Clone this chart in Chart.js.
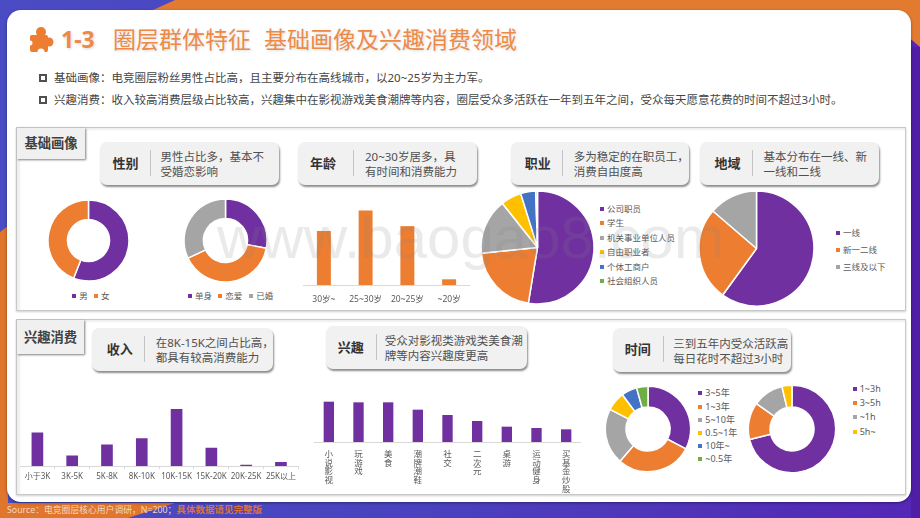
<!DOCTYPE html>
<html lang="zh">
<head>
<meta charset="utf-8">
<title>圈层群体特征</title>
<script src="https://cdn.jsdelivr.net/npm/chart.js@4"></script>
<style>
html, body { margin: 0; padding: 0; }
body { width: 920px; height: 518px; position: relative; overflow: hidden; font-family: "Noto Sans", "Noto Sans CJK SC", sans-serif; color: #404040;
  background: linear-gradient(90deg, #4a4cc4 0%, #4a42be 45%, #5527b6 100%); }
.abs { position: absolute; }
#bg { position: absolute; left: 0; top: 0; }
#card { position: absolute; left: 7px; top: 10px; width: 904px; height: 492px; background: #fff; border-radius: 14px; box-shadow: 0 1px 3px rgba(0,0,0,.4); }
.title { position: absolute; top: 23px; font-size: 23px; line-height: 32px; color: #ee8a48; white-space: nowrap; text-shadow: 1px 1px 3px rgba(0,0,0,.15); }
.bullet { position: absolute; left: 39px; width: 4px; height: 4px; border: 2px solid #505050; }
.line { position: absolute; left: 54px; font-size: 11.5px; line-height: 16px; color: #454545; white-space: nowrap; }
.panel { position: absolute; left: 16px; width: 888px; border: 1.5px solid #c8c8c8; box-shadow: inset 3px 2px 2px #efefef, 0 1px 2px rgba(0,0,0,.2); }
.tab { position: absolute; background: #f0f0f0; box-shadow: 1px 1px 2px rgba(0,0,0,.5); font-size: 13.3px; font-weight: 700; color: #404040; text-align: center; }
.callout { position: absolute; height: 43.5px; background: #f1f1f1; border-radius: 7px; box-shadow: 1px 2px 2px rgba(0,0,0,.45); }
.callout b { position: absolute; left: 0; top: 0; font-size: 13px; line-height: 43.5px; color: #333; }
.callout i { position: absolute; top: 8px; width: 1px; height: 26px; background: #c4c4c4; }
.callout span { position: absolute; top: 7.5px; font-size: 11.5px; line-height: 15px; color: #505050; white-space: nowrap; }
.leg { position: absolute; font-size: 8.5px; line-height: 10px; color: #595959; white-space: nowrap; }
.leg s { position: absolute; width: 4px; height: 4px; top: 3px; }
#mark { position: absolute; left: 217px; top: 198px; font-family: "Liberation Sans", sans-serif; font-size: 60px; line-height: 80px; color: rgba(130,130,130,.17); white-space: nowrap; }
#source { position: absolute; left: 7px; top: 503px; font-size: 8.8px; line-height: 14px; color: #f2d8c4; white-space: nowrap; }
#source em { font-style: normal; font-weight: 700; font-size: 9.5px; color: #d9733a; }
canvas { position: absolute; }
</style>
</head>
<body>
<svg id="bg" width="920" height="518">
  <polygon points="153,10 175,0 920,0 920,47 900,30" fill="#e27a30"/>
  <polygon points="0,232 8,226 8,503 175,503 128,518 0,518" fill="#e0752c"/>
  <rect x="911" y="47" width="9" height="471" fill="#4e1fa6"/>
</svg>
<div id="card"></div>

<svg class="abs" style="left:29px;top:26px" width="26" height="27">
  <g fill="#ed7d31">
    <rect x="1" y="9" width="18" height="17" rx="2"/>
    <circle cx="12" cy="6" r="5"/>
    <circle cx="20" cy="16" r="4.5"/>
  </g>
  <circle cx="1" cy="17" r="2.5" fill="#fff"/>
  <circle cx="12" cy="26" r="3.5" fill="#fff"/>
</svg>
<div class="title" style="left:61px;font-weight:700">1-3</div>
<div class="title" style="left:113px">圈层群体特征</div>
<div class="title" style="left:264px">基础画像及兴趣消费领域</div>

<div class="bullet" style="top:74px"></div>
<div class="line" style="top:70px">基础画像：电竞圈层粉丝男性占比高，且主要分布在高线城市，以20~25岁为主力军。</div>
<div class="bullet" style="top:96px"></div>
<div class="line" style="top:92px">兴趣消费：收入较高消费层级占比较高，兴趣集中在影视游戏美食潮牌等内容，圈层受众多活跃在一年到五年之间，受众每天愿意花费的时间不超过3小时。</div>

<div class="panel" style="top:127px;height:182px"></div>
<div class="panel" style="top:319px;height:174px"></div>
<div class="tab" style="left:17px;top:128px;width:68px;height:31px;line-height:31px">基础画像</div>
<div class="tab" style="left:17px;top:320px;width:67px;height:34px;line-height:34px">兴趣消费</div>

<div id="stage"></div>
<div id="mark">www.baogao8.com</div>
<div id="source">Source：电竞圈层核心用户调研，N=200；<em>具体数据请见完整版</em></div>

<script>
const PURPLE = "#7030a0";
const ORANGE = "#ed7d31";
const GREY = "#a5a5a5";
const YELLOW = "#ffc000";
const BLUE = "#4472c4";
const GREEN = "#70ad47";
const pieColors = [PURPLE, ORANGE, GREY, YELLOW, BLUE, GREEN];

const genderLabels = ["男", "女"];
const genderValues = [56, 44];

const loveLabels = ["单身", "恋爱", "已婚"];
const loveValues = [28, 40, 32];

const ageLabels = ["30岁~", "25~30岁", "20~25岁", "~20岁"];
const ageValues = [28, 38.7, 30.5, 2.8];

const jobLabels = ["公司职员", "学生", "机关事业单位人员", "自由职业者", "个体工商户", "社会组织人员"];
const jobValues = [52.6, 20.8, 15.9, 5.9, 4.3, 0.5];

const regionLabels = ["一线", "新一二线", "三线及以下"];
const regionValues = [60, 26.3, 13.7];

const incomeLabels = ["小于3K", "3K-5K", "5K-8K", "8K-10K", "10K-15K", "15K-20K", "20K-25K", "25K以上"];
const incomeValues = [19.4, 6, 12.4, 16, 33.1, 10.5, 0.6, 2.2];

const interestLabels = ["小说影视", "玩游戏", "美食", "潮牌潮鞋", "社交", "二次元", "桌游", "运动健身", "买基金炒股"];
const interestValues = [60, 59, 59, 48, 40, 31, 22.5, 20.5, 18.5];

const tenureLabels = ["3~5年", "1~3年", "5~10年", "0.5~1年", "10年~", "~0.5年"];
const tenureValues = [32.7, 28.7, 21.2, 7.2, 5.9, 4.3];

const timeLabels = ["1~3h", "3~5h", "~1h", "5h~"];
const timeValues = [71.1, 13.8, 11.4, 3.7];

const stage = document.getElementById("stage");
const fontFamily = '"Noto Sans", "Noto Sans CJK SC", sans-serif';

function addCanvas(x, y, w, h) {
    const c = document.createElement("canvas");
    c.width = w;
    c.height = h;
    c.style.left = x + "px";
    c.style.top = y + "px";
    c.style.width = w + "px";
    c.style.height = h + "px";
    stage.appendChild(c);
    return c;
}

// cx, cy = centre, r = outer radius, inner = hole radius
function drawPie(cx, cy, r, inner, labels, values) {
    const size = Math.ceil(r * 2 + 4);
    const c = addCanvas(cx - size / 2, cy - size / 2, size, size);
    new Chart(c, {
        type: "doughnut",
        data: {
            labels: labels,
            datasets: [{
                data: values,
                backgroundColor: pieColors.slice(0, labels.length),
                borderColor: "#fff",
                borderWidth: 1.5
            }]
        },
        options: {
            responsive: false,
            animation: false,
            cutout: inner / r * 100 + "%",
            layout: { padding: (size - r * 2 - 1.5) / 2 },
            plugins: { legend: { display: false }, tooltip: { enabled: false } }
        }
    });
}

// plot spans x0..x1 and top..base, the axis labels sit below
function drawBars(x0, x1, top, base, below, yMax, labels, values, color, barW, extra) {
    const c = addCanvas(x0, top, x1 - x0, base - top + below);
    new Chart(c, {
        type: "bar",
        data: {
            labels: extra.vertical ? labels.map(t => t.split("")) : labels,
            datasets: [{ data: values, backgroundColor: color, barThickness: barW }]
        },
        options: {
            responsive: false,
            animation: false,
            layout: { padding: 0 },
            scales: {
                x: {
                    afterFit: s => { s.height = below; },
                    border: { color: "#d9d9d9" },
                    grid: { drawOnChartArea: false, offset: true, drawTicks: !!extra.ticks, tickLength: 3, color: "#d9d9d9" },
                    ticks: {
                        autoSkip: false,
                        maxRotation: 0,
                        minRotation: 0,
                        padding: extra.pad,
                        color: "#595959",
                        font: { family: fontFamily, size: extra.size, lineHeight: extra.vertical ? 1.03 : 1.2 }
                    }
                },
                y: { display: false, min: 0, max: yMax }
            },
            plugins: { legend: { display: false }, tooltip: { enabled: false } }
        }
    });
}

// html legend; each item placed by its own left/top
function legendRow(y, items) {
    items.forEach(it => legendItem(it[0], y, it[1], it[2]));
}

function legendColumn(x, y, step, labels, size) {
    labels.forEach((t, i) => legendItem(x, y + i * step, pieColors[i], t, size));
}

function legendItem(x, y, color, text, size) {
    const d = document.createElement("div");
    d.className = "leg";
    d.style.left = x + "px";
    d.style.top = (y - 5) + "px";
    d.style.paddingLeft = "7px";
    if (size) d.style.fontSize = size + "px";
    d.innerHTML = '<s style="left:0;background:' + color + '"></s>' + text;
    stage.appendChild(d);
}

function callout(x, y, w, head, sep, textX, lines, headX) {
    const d = document.createElement("div");
    d.className = "callout";
    d.style.left = x + "px";
    d.style.top = y + "px";
    d.style.width = w + "px";
    d.innerHTML = '<b style="left:' + headX + 'px">' + head + '</b><i style="left:' + sep + 'px"></i><span style="left:' + textX + 'px">' + lines.join("<br>") + "</span>";
    stage.appendChild(d);
}

callout(100, 141.6, 179, "性别", 50, 60.5, ["男性占比多，基本不", "受婚恋影响"], 12.5);
callout(298, 141.6, 179, "年龄", 55, 67, ["20~30岁居多，具", "有时间和消费能力"], 12);
callout(510.7, 141.6, 178, "职业", 51, 63, ["多为稳定的在职员工，", "消费自由度高"], 14);
callout(700, 141.6, 179, "地域", 52, 63.5, ["基本分布在一线、新", "一线和二线"], 14.5);
callout(91.7, 327.7, 181, "收入", 52, 64, ["在8K-15K之间占比高，", "都具有较高消费能力"], 15);
callout(325.7, 325.7, 201, "兴趣", 50, 59, ["受众对影视类游戏类美食潮", "牌等内容兴趣度更高"], 12);
callout(612.7, 328.3, 178, "时间", 50, 60.5, ["三到五年内受众活跃高", "每日花时不超过3小时"], 12);

drawPie(88.5, 240, 40.5, 21, genderLabels, genderValues);
legendRow(296.3, [[72.3, PURPLE, genderLabels[0]], [94, ORANGE, genderLabels[1]]]);

drawPie(225, 240.5, 41.5, 22, loveLabels, loveValues);
legendRow(296.3, [[188, PURPLE, loveLabels[0]], [218.3, ORANGE, loveLabels[1]], [249.3, GREY, loveLabels[2]]]);

drawBars(303, 470, 205, 285, 25, 41.7, ageLabels, ageValues, ORANGE, 13.3, { size: 8.5, pad: 9 });

drawPie(537.7, 247.7, 56.5, 0, jobLabels, jobValues);
legendColumn(600, 208.7, 14.45, jobLabels);

drawPie(756.7, 248.3, 57.5, 0, regionLabels, regionValues);
legendColumn(836, 233.3, 17, regionLabels);

drawBars(20, 299, 396, 466, 22, 40.9, incomeLabels, incomeValues, PURPLE, 11, { size: 8, pad: 3, ticks: true });

drawBars(314, 581, 392, 442, 56, 75, interestLabels, interestValues, PURPLE, 9.7, { size: 8.5, pad: 8, vertical: true });

drawPie(648, 429, 42.7, 22, tenureLabels, tenureValues);
legendColumn(698.3, 393.3, 13.2, tenureLabels, 9);

drawPie(791.7, 429.3, 43.7, 22, timeLabels, timeValues);
legendColumn(852.7, 389, 14.2, timeLabels, 9);
</script>
</body>
</html>
